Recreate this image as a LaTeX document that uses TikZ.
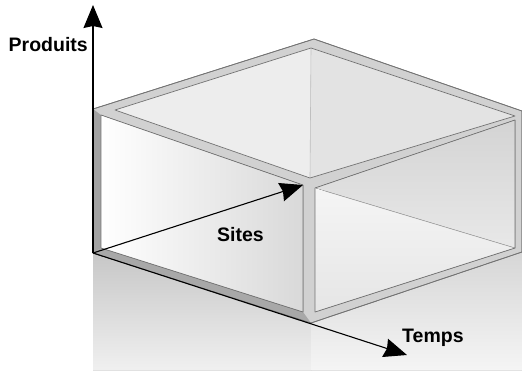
\documentclass[tikz,border=0pt]{standalone}
\usepackage{fontspec}
\setmainfont{Liberation Sans}
\usetikzlibrary{arrows.meta}

\begin{document}
\begin{tikzpicture}[x=1pt,y=-1pt]
        \tikzstyle{rim} = [draw=black!55, line width=0.7pt, line join=round]
        \tikzstyle{bar} = [fill=black!18]
        \tikzstyle{axisarrow} = [line width=1.1pt, -{Stealth[length=23pt,width=19pt,inset=2pt]}]
        \tikzstyle{axislabel} = [inner sep=0pt, font=\fontsize{19.5}{22}\selectfont\bfseries]
        \useasboundingbox (0,0) rectangle (522,370);

        % corners of the slab
        \coordinate (o) at (93,253);
        \coordinate (tl) at (93,109);
        \coordinate (tb) at (314,39);
        \coordinate (tr) at (522,111);
        \coordinate (br) at (522,252);
        \coordinate (bf) at (311,323);

        % block below the slab
        \fill [top color=black!22, bottom color=black!6] (o) -- (bf) -- (311,370) -- (93,370) -- cycle;
        \fill [top color=black!16, bottom color=black!4] (bf) -- (br) -- (522,370) -- (311,370) -- cycle;

        % frame of the slab
        \filldraw [rim, bar] (tl) -- (tb) -- (tr) -- (br) -- (bf) -- (o) -- cycle;
        \fill [black!36] (tl) -- (101,115) -- (101,248) -- (o) -- cycle;
        \fill [black!34] (o) -- (101,248) -- (303,312) -- (bf) -- cycle;
        \draw [rim] (tl) -- (tb) -- (tr) -- (br) -- (bf) -- (o) -- cycle;

        % openings
        \fill [black!7] (115,110) -- (311,48) -- (310,178) -- cycle;
        \fill [black!11] (311,48) -- (515,116) -- (310,178) -- cycle;
        \draw [black!25, line width=0.6pt] (311,48) -- (310,178);
        \draw [rim] (115,110) -- (311,48) -- (515,116) -- (310,178) -- cycle;

        \filldraw [rim, shading angle=120, left color=white, right color=black!15] (101,115) -- (303,185) -- (303,312) -- (101,248) -- cycle;

        \fill [top color=black!17, bottom color=black!9] (315,188) -- (515,120) -- (515,248) -- cycle;
        \fill [top color=black!4, bottom color=black!10] (315,188) -- (515,248) -- (315,312) -- cycle;
        \draw [black!35, line width=0.6pt] (325,191) -- (515,248);
        \draw [rim] (315,188) -- (515,120) -- (515,248) -- (315,312) -- cycle;

        % axes
        \coordinate (prodtip) at (93,5);
        \coordinate (sitestip) at (303,185);
        \coordinate (tempstip) at (407,355);
        \draw [axisarrow] (o) -- (prodtip);
        \draw [axisarrow] (o) -- (sitestip);
        \draw [axisarrow] (o) -- (tempstip);

        \node (prodlabel) [axislabel, anchor=base east] at (88,51) {Produits};
        \node (siteslabel) [axislabel, anchor=base west] at (217,241) {Sites};
        \node (tempslabel) [axislabel, anchor=base west] at (402,342) {Temps};
\end{tikzpicture}
\end{document}
